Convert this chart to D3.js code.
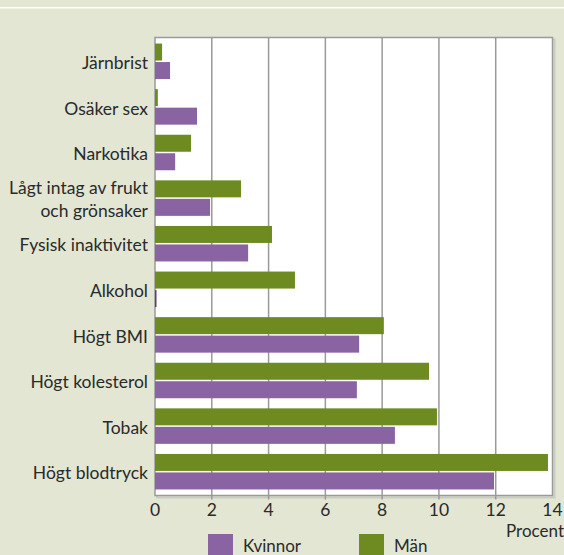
<!DOCTYPE html>
<html>
<head>
<meta charset="utf-8">
<script src="https://cdn.jsdelivr.net/npm/d3@7"></script>
<style>
  html, body { margin: 0; padding: 0; background: #e2e6d3; }
  svg { display: block; }
  text { font-family: Lato, "Open Sans", sans-serif; fill: #2a2a2a; }
</style>
</head>
<body>
<div id="chart"></div>
<script>
var width = 564, height = 555;

// data (percent)
var categories = ["Järnbrist", "Osäker sex", "Narkotika", "Lågt intag av frukt\noch grönsaker",
  "Fysisk inaktivitet", "Alkohol", "Högt BMI", "Högt kolesterol", "Tobak", "Högt blodtryck"];
var man = [0.25, 0.1, 1.27, 3.03, 4.12, 4.93, 8.06, 9.65, 9.93, 13.84];
var kvinnor = [0.53, 1.48, 0.71, 1.94, 3.28, 0.05, 7.19, 7.11, 8.45, 11.94];
var ticks = [0, 2, 4, 6, 8, 10, 12, 14];
var seriesNames = ["Kvinnor", "Män"];
var colors = {"Kvinnor": "#8a63a3", "Män": "#6e8b22"};

var svg = d3.select("#chart").append("svg")
  .attr("width", width)
  .attr("height", height);

// thin white line on top
svg.append("rect").attr("x", 0).attr("y", 7).attr("width", width).attr("height", 1.5).attr("fill", "#fff");

var pLeft = 155, pRight = 552.5, pTop = 37.5, pBottom = 495.5;

var x = d3.scaleLinear().domain([0, 14]).range([pLeft, pRight]);
var y = d3.scaleBand().domain(categories).range([pTop + 1, pBottom - 1]);

// frame with a soft shadow
svg.append("rect")
  .attr("x", pLeft + 2).attr("y", pTop + 2)
  .attr("width", pRight - pLeft).attr("height", pBottom - pTop)
  .attr("fill", "none").attr("stroke", "#c9ccc0").attr("stroke-width", 2);
svg.append("rect")
  .attr("x", pLeft).attr("y", pTop)
  .attr("width", pRight - pLeft).attr("height", pBottom - pTop)
  .attr("fill", "#fff").attr("stroke", "#9a9a9a").attr("stroke-width", 1.5);

// gridlines, running a bit below the frame like ticks
svg.append("g").selectAll("line")
  .data(ticks.slice(1, -1))
  .enter().append("line")
  .attr("x1", d => x(d)).attr("x2", d => x(d))
  .attr("y1", pTop).attr("y2", pBottom + 4)
  .attr("stroke", "#9a9a9a").attr("stroke-width", 1.5);

var barH = 17, gap = 1.5;

var rows = svg.append("g").selectAll("g")
  .data(categories)
  .enter().append("g")
  .attr("transform", d => "translate(0," + (y(d) + y.bandwidth() / 2) + ")");

rows.append("rect")
  .attr("x", x(0))
  .attr("y", -barH - gap / 2)
  .attr("width", (d, i) => x(man[i]) - x(0))
  .attr("height", barH)
  .attr("fill", colors["Män"]);

rows.append("rect")
  .attr("x", x(0))
  .attr("y", gap / 2)
  .attr("width", (d, i) => Math.max(1.5, x(kvinnor[i]) - x(0)))
  .attr("height", barH)
  .attr("fill", (d, i) => kvinnor[i] < 0.1 ? "#5b3f70" : colors["Kvinnor"]);

// category labels
rows.each(function(d) {
  var lines = d.split("\n");
  var t = d3.select(this).append("text")
    .attr("text-anchor", "end")
    .attr("font-size", 17.5);
  lines.forEach(function(l, j) {
    t.append("tspan")
      .attr("x", 148)
      .attr("y", (j - (lines.length - 1) / 2) * 23 + 1.5)
      .attr("dy", "0.35em")
      .text(l);
  });
});

// x tick labels
svg.append("g").selectAll("text")
  .data(ticks)
  .enter().append("text")
  .attr("x", d => x(d))
  .attr("y", 510)
  .attr("dy", "0.35em")
  .attr("text-anchor", "middle")
  .attr("font-size", 17.5)
  .text(d => d);

svg.append("text")
  .attr("x", 564).attr("y", 531).attr("dy", "0.35em")
  .attr("text-anchor", "end")
  .attr("font-size", 17)
  .text("Procent");

// legend
var lx = [208, 359];
var legend = svg.append("g").selectAll("g")
  .data(seriesNames)
  .enter().append("g")
  .attr("transform", (d, i) => "translate(" + lx[i] + ",534)");
legend.append("rect")
  .attr("width", 25).attr("height", 22)
  .attr("fill", d => colors[d]);
legend.append("text")
  .attr("x", 35).attr("y", 12).attr("dy", "0.35em")
  .attr("font-size", 17)
  .text(d => d);
</script>
</body>
</html>
